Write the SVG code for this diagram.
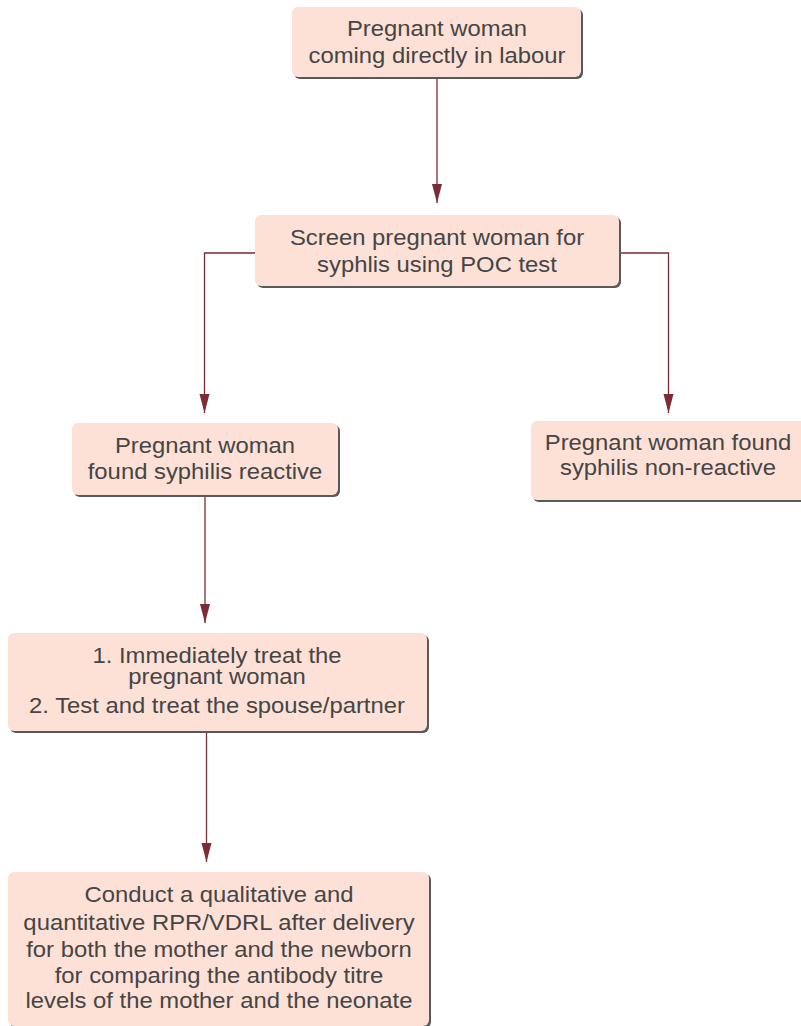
<svg xmlns="http://www.w3.org/2000/svg" width="801" height="1026" viewBox="0 0 801 1026">
<style>
.box{fill:#fde1d7}
.sh{fill:#595959}
.t{font-family:"Liberation Sans",Arial,sans-serif;font-size:22.5px;fill:#454545;text-anchor:middle}
.c{fill:none;stroke:#7b2c35;stroke-width:1.3}
</style>
<defs>
<marker id="ah" markerWidth="20" markerHeight="11" refX="19" refY="5" orient="auto" markerUnits="userSpaceOnUse" viewBox="0 0 20 11">
<path d="M0,0 L19,5 L0,10 Z" fill="#7b2c35"/>
</marker>
</defs>
<g id="connectors">
<path class="c" d="M437,77 V203" marker-end="url(#ah)"/>
<path class="c" d="M255,253 H204.5 V413" marker-end="url(#ah)"/>
<path class="c" d="M619,253 H668.5 V413" marker-end="url(#ah)"/>
<path class="c" d="M205,495 V623" marker-end="url(#ah)"/>
<path class="c" d="M206.5,731 V862" marker-end="url(#ah)"/>
</g>
<g id="n1">
<rect class="sh" x="294" y="9" width="289" height="70" rx="6"/>
<rect class="box" x="292" y="7" width="289" height="70" rx="6"/>
<g transform="translate(437,0) scale(1.06,1)"><text class="t" x="0" y="36">Pregnant woman</text><text class="t" x="0" y="63">coming directly in labour</text></g>
</g>
<g id="n2">
<rect class="sh" x="257" y="217" width="364" height="71" rx="6"/>
<rect class="box" x="255" y="215" width="364" height="71" rx="6"/>
<g transform="translate(437,0) scale(1.06,1)"><text class="t" x="0" y="245">Screen pregnant woman for</text><text class="t" x="0" y="272">syphlis using POC test</text></g>
</g>
<g id="n3">
<rect class="sh" x="74" y="425" width="266" height="72" rx="6"/>
<rect class="box" x="72" y="423" width="266" height="72" rx="6"/>
<g transform="translate(205,0) scale(1.06,1)"><text class="t" x="0" y="453">Pregnant woman</text><text class="t" x="0" y="479">found syphilis reactive</text></g>
</g>
<g id="n4">
<rect class="sh" x="533" y="423" width="275" height="79" rx="6"/>
<rect class="box" x="531" y="421" width="275" height="79" rx="6"/>
<g transform="translate(668,0) scale(1.06,1)"><text class="t" x="0" y="450">Pregnant woman found</text><text class="t" x="0" y="475">syphilis non-reactive</text></g>
</g>
<g id="n5">
<rect class="sh" x="10" y="635" width="419" height="98" rx="6"/>
<rect class="box" x="8" y="633" width="419" height="98" rx="6"/>
<g transform="translate(217,0) scale(1.06,1)"><text class="t" x="0" y="663">1. Immediately treat the</text><text class="t" x="0" y="684">pregnant woman</text><text class="t" x="0" y="713">2. Test and treat the spouse/partner</text></g>
</g>
<g id="n6">
<rect class="sh" x="10" y="874" width="421" height="154" rx="6"/>
<rect class="box" x="8" y="872" width="421" height="154" rx="6"/>
<g transform="translate(219,0) scale(1.06,1)"><text class="t" x="0" y="902">Conduct a qualitative and</text><text class="t" x="0" y="930">quantitative RPR/VDRL after delivery</text><text class="t" x="0" y="957">for both the mother and the newborn</text><text class="t" x="0" y="983">for comparing the antibody titre</text><text class="t" x="0" y="1008">levels of the mother and the neonate</text></g>
</g>
</svg>
